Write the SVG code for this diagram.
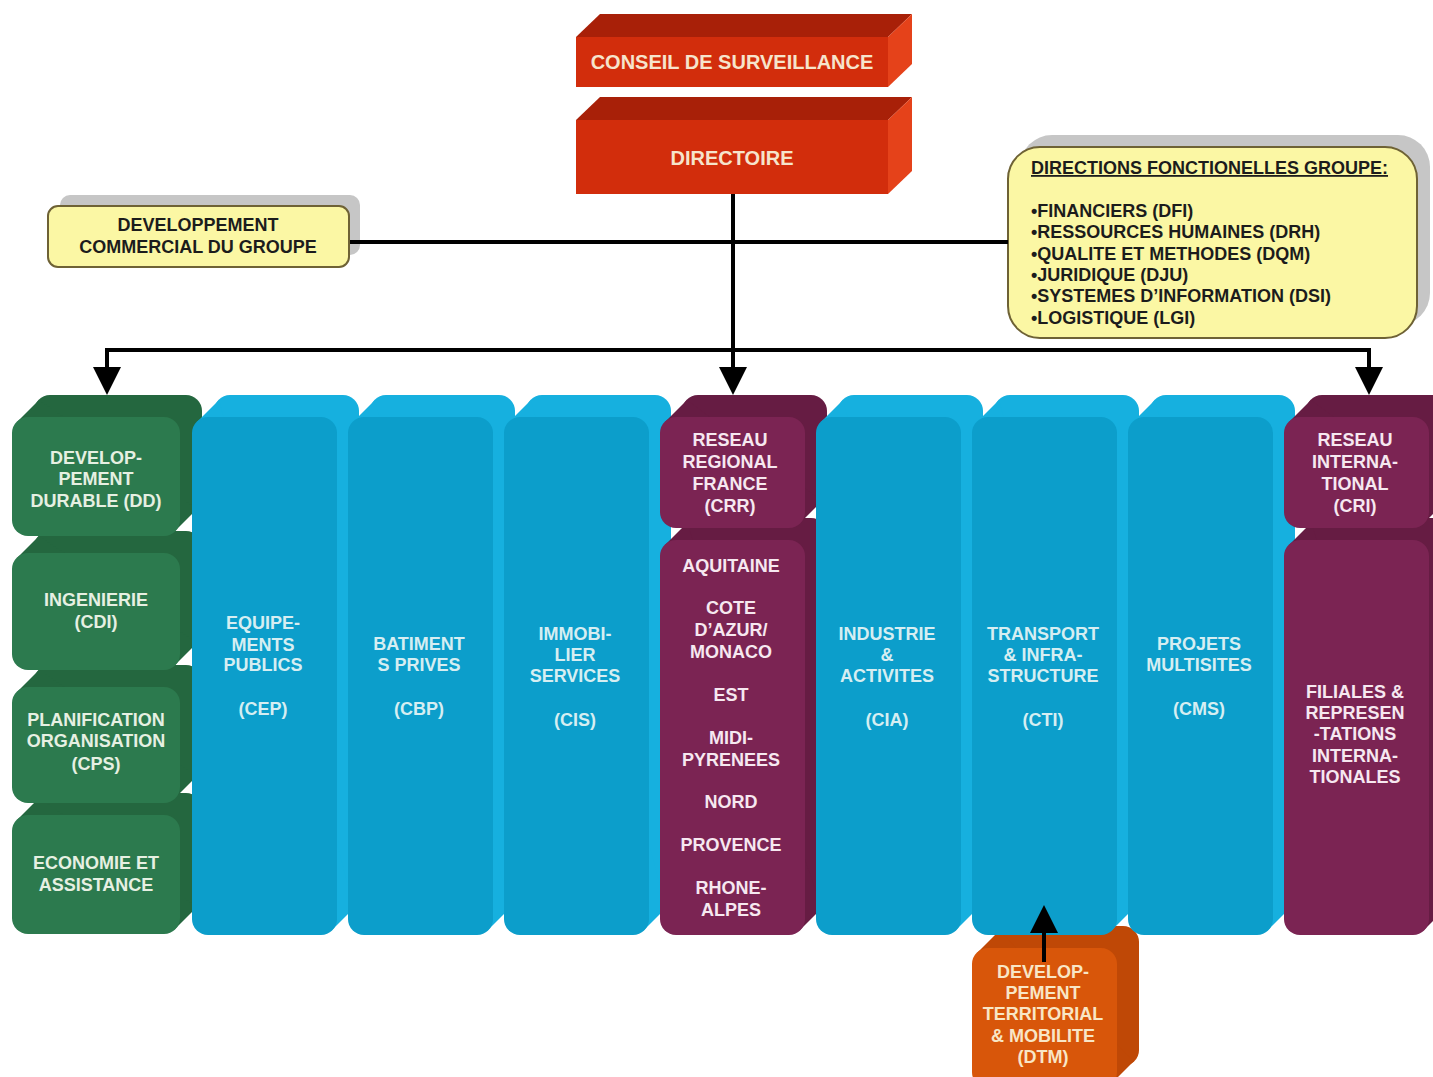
<svg xmlns="http://www.w3.org/2000/svg" width="1433" height="1077" viewBox="0 0 1433 1077">
<style>
text{font-family:"Liberation Sans",Arial,sans-serif;font-weight:bold;font-size:18px;text-anchor:middle}
.t-red{fill:#f6e4cc;font-size:20px}
.t-yel{fill:#1c1c1c}
.t-left{text-anchor:start}
.t-grn{fill:#e6f0e2}
.t-blu{fill:#d6eef2}
.t-pur{fill:#f6e8f0}
.t-org{fill:#f8e6c6}
.grn-f{fill:#2c7a4e}.grn-s{fill:#24673f}
.blu-f{fill:#0c9ecb}.blu-s{fill:#16b0df}
.pur-f{fill:#7b2453}.pur-s{fill:#661c43}
.org-f{fill:#d8560a}.org-s{fill:#bf4806}
.red-f{fill:#d22d0c}.red-t{fill:#a82008}.red-s{fill:#e5421a}
.yel{fill:#fbf7a4;stroke:#6e6235;stroke-width:2}
.shadow{fill:#c6c6c6}
.conn{fill:none;stroke:#000;stroke-width:4}
</style>
<defs>
<marker id="arr" markerUnits="userSpaceOnUse" markerWidth="30" markerHeight="30" refX="4" refY="14" orient="auto-start-reverse">
<path d="M0,0 L28,14 L0,28 z" fill="#000"/>
</marker>
</defs>

<g id="conseil">
<polygon class="red-t" points="576,37 600,14 912,14 888,37"/>
<polygon class="red-s" points="888,37 912,14 912,64 888,87"/>
<rect class="red-f" x="576" y="37" width="312" height="50"/>
<text class="t-red" x="732" y="69">CONSEIL DE SURVEILLANCE</text>
</g>
<g id="directoire">
<polygon class="red-t" points="576,120 600,97 912,97 888,120"/>
<polygon class="red-s" points="888,120 912,97 912,171 888,194"/>
<rect class="red-f" x="576" y="120" width="312" height="74"/>
<text class="t-red" x="732" y="165">DIRECTOIRE</text>
</g>

<g id="dev-commercial">
<rect class="shadow" x="60" y="195" width="300" height="60" rx="10"/>
<rect class="yel" x="48" y="206" width="301" height="61" rx="10"/>
<text class="t-yel" x="198" y="231">DEVELOPPEMENT</text>
<text class="t-yel" x="198" y="253">COMMERCIAL DU GROUPE</text>
</g>

<g id="directions-fonctionnelles">
<rect class="shadow" x="1020" y="135" width="410" height="190" rx="32"/>
<rect class="yel" x="1008" y="147" width="409" height="191" rx="32"/>
<text class="t-yel t-left" x="1031" y="174" text-decoration="underline">DIRECTIONS FONCTIONELLES GROUPE:</text>
<text class="t-yel t-left" x="1031" y="217">•FINANCIERS (DFI)</text>
<text class="t-yel t-left" x="1031" y="238">•RESSOURCES HUMAINES (DRH)</text>
<text class="t-yel t-left" x="1031" y="260">•QUALITE ET METHODES (DQM)</text>
<text class="t-yel t-left" x="1031" y="281">•JURIDIQUE (DJU)</text>
<text class="t-yel t-left" x="1031" y="302">•SYSTEMES D’INFORMATION (DSI)</text>
<text class="t-yel t-left" x="1031" y="324">•LOGISTIQUE (LGI)</text>
</g>

<g id="dtm">
<g transform="translate(972,948)">
<rect class="org-s" x="22" y="-22" width="145" height="140" rx="16"/>
<polygon class="org-s" points="5,5 27,-17 162,113 140,135"/>
<rect class="org-f" x="0" y="0" width="145" height="140" rx="16"/>
</g>
<text class="t-org" x="1043" y="978">DEVELOP-</text>
<text class="t-org" x="1043" y="999">PEMENT</text>
<text class="t-org" x="1043" y="1020">TERRITORIAL</text>
<text class="t-org" x="1043" y="1042">&amp; MOBILITE</text>
<text class="t-org" x="1043" y="1063">(DTM)</text>
</g>

<g id="eco">
<g transform="translate(12,815)">
<rect class="grn-s" x="22" y="-22" width="168" height="119" rx="16"/>
<polygon class="grn-s" points="5,5 27,-17 185,92 163,114"/>
<rect class="grn-f" x="0" y="0" width="168" height="119" rx="16"/>
</g>
<text class="t-grn" x="96" y="869">ECONOMIE ET</text>
<text class="t-grn" x="96" y="891">ASSISTANCE</text>
</g>
<g id="cps">
<g transform="translate(12,687)">
<rect class="grn-s" x="22" y="-22" width="168" height="116" rx="16"/>
<polygon class="grn-s" points="5,5 27,-17 185,89 163,111"/>
<rect class="grn-f" x="0" y="0" width="168" height="116" rx="16"/>
</g>
<text class="t-grn" x="96" y="726">PLANIFICATION</text>
<text class="t-grn" x="96" y="747">ORGANISATION</text>
<text class="t-grn" x="96" y="770">(CPS)</text>
</g>
<g id="cdi">
<g transform="translate(12,553)">
<rect class="grn-s" x="22" y="-22" width="168" height="117" rx="16"/>
<polygon class="grn-s" points="5,5 27,-17 185,90 163,112"/>
<rect class="grn-f" x="0" y="0" width="168" height="117" rx="16"/>
</g>
<text class="t-grn" x="96" y="606">INGENIERIE</text>
<text class="t-grn" x="96" y="628">(CDI)</text>
</g>
<g id="dd">
<g transform="translate(12,417)">
<rect class="grn-s" x="22" y="-22" width="168" height="119" rx="16"/>
<polygon class="grn-s" points="5,5 27,-17 185,92 163,114"/>
<rect class="grn-f" x="0" y="0" width="168" height="119" rx="16"/>
</g>
<text class="t-grn" x="96" y="464">DEVELOP-</text>
<text class="t-grn" x="96" y="485">PEMENT</text>
<text class="t-grn" x="96" y="507">DURABLE (DD)</text>
</g>

<g id="cep">
<g transform="translate(192,417)">
<rect class="blu-s" x="22" y="-22" width="145" height="518" rx="16"/>
<polygon class="blu-s" points="5,5 27,-17 162,491 140,513"/>
<rect class="blu-f" x="0" y="0" width="145" height="518" rx="16"/>
</g>
<text class="t-blu" x="263" y="629">EQUIPE-</text>
<text class="t-blu" x="263" y="651">MENTS</text>
<text class="t-blu" x="263" y="671">PUBLICS</text>
<text class="t-blu" x="263" y="715">(CEP)</text>
</g>

<g id="cbp">
<g transform="translate(348,417)">
<rect class="blu-s" x="22" y="-22" width="145" height="518" rx="16"/>
<polygon class="blu-s" points="5,5 27,-17 162,491 140,513"/>
<rect class="blu-f" x="0" y="0" width="145" height="518" rx="16"/>
</g>
<text class="t-blu" x="419" y="650">BATIMENT</text>
<text class="t-blu" x="419" y="671">S PRIVES</text>
<text class="t-blu" x="419" y="715">(CBP)</text>
</g>

<g id="cis">
<g transform="translate(504,417)">
<rect class="blu-s" x="22" y="-22" width="145" height="518" rx="16"/>
<polygon class="blu-s" points="5,5 27,-17 162,491 140,513"/>
<rect class="blu-f" x="0" y="0" width="145" height="518" rx="16"/>
</g>
<text class="t-blu" x="575" y="640">IMMOBI-</text>
<text class="t-blu" x="575" y="661">LIER</text>
<text class="t-blu" x="575" y="682">SERVICES</text>
<text class="t-blu" x="575" y="726">(CIS)</text>
</g>

<g id="regions">
<g transform="translate(660,540)">
<rect class="pur-s" x="22" y="-22" width="145" height="395" rx="16"/>
<polygon class="pur-s" points="5,5 27,-17 162,368 140,390"/>
<rect class="pur-f" x="0" y="0" width="145" height="395" rx="16"/>
</g>
<text class="t-pur" x="731" y="572">AQUITAINE</text>
<text class="t-pur" x="731" y="614">COTE</text>
<text class="t-pur" x="731" y="636">D’AZUR/</text>
<text class="t-pur" x="731" y="658">MONACO</text>
<text class="t-pur" x="731" y="701">EST</text>
<text class="t-pur" x="731" y="744">MIDI-</text>
<text class="t-pur" x="731" y="766">PYRENEES</text>
<text class="t-pur" x="731" y="808">NORD</text>
<text class="t-pur" x="731" y="851">PROVENCE</text>
<text class="t-pur" x="731" y="894">RHONE-</text>
<text class="t-pur" x="731" y="916">ALPES</text>
</g>
<g id="crr">
<g transform="translate(660,417)">
<rect class="pur-s" x="22" y="-22" width="145" height="111" rx="16"/>
<polygon class="pur-s" points="5,5 27,-17 162,84 140,106"/>
<rect class="pur-f" x="0" y="0" width="145" height="111" rx="16"/>
</g>
<text class="t-pur" x="730" y="446">RESEAU</text>
<text class="t-pur" x="730" y="468">REGIONAL</text>
<text class="t-pur" x="730" y="490">FRANCE</text>
<text class="t-pur" x="730" y="512">(CRR)</text>
</g>

<g id="cia">
<g transform="translate(816,417)">
<rect class="blu-s" x="22" y="-22" width="145" height="518" rx="16"/>
<polygon class="blu-s" points="5,5 27,-17 162,491 140,513"/>
<rect class="blu-f" x="0" y="0" width="145" height="518" rx="16"/>
</g>
<text class="t-blu" x="887" y="640">INDUSTRIE</text>
<text class="t-blu" x="887" y="661">&amp;</text>
<text class="t-blu" x="887" y="682">ACTIVITES</text>
<text class="t-blu" x="887" y="726">(CIA)</text>
</g>

<g id="cti">
<g transform="translate(972,417)">
<rect class="blu-s" x="22" y="-22" width="145" height="518" rx="16"/>
<polygon class="blu-s" points="5,5 27,-17 162,491 140,513"/>
<rect class="blu-f" x="0" y="0" width="145" height="518" rx="16"/>
</g>
<text class="t-blu" x="1043" y="640">TRANSPORT</text>
<text class="t-blu" x="1043" y="661">&amp; INFRA-</text>
<text class="t-blu" x="1043" y="682">STRUCTURE</text>
<text class="t-blu" x="1043" y="726">(CTI)</text>
</g>

<g id="cms">
<g transform="translate(1128,417)">
<rect class="blu-s" x="22" y="-22" width="145" height="518" rx="16"/>
<polygon class="blu-s" points="5,5 27,-17 162,491 140,513"/>
<rect class="blu-f" x="0" y="0" width="145" height="518" rx="16"/>
</g>
<text class="t-blu" x="1199" y="650">PROJETS</text>
<text class="t-blu" x="1199" y="671">MULTISITES</text>
<text class="t-blu" x="1199" y="715">(CMS)</text>
</g>

<g id="filiales">
<g transform="translate(1284,540)">
<rect class="pur-s" x="22" y="-22" width="145" height="395" rx="16"/>
<polygon class="pur-s" points="5,5 27,-17 162,368 140,390"/>
<rect class="pur-f" x="0" y="0" width="145" height="395" rx="16"/>
</g>
<text class="t-pur" x="1355" y="698">FILIALES &amp;</text>
<text class="t-pur" x="1355" y="719">REPRESEN</text>
<text class="t-pur" x="1355" y="740">-TATIONS</text>
<text class="t-pur" x="1355" y="762">INTERNA-</text>
<text class="t-pur" x="1355" y="783">TIONALES</text>
</g>
<g id="cri">
<g transform="translate(1284,417)">
<rect class="pur-s" x="22" y="-22" width="145" height="111" rx="16"/>
<polygon class="pur-s" points="5,5 27,-17 162,84 140,106"/>
<rect class="pur-f" x="0" y="0" width="145" height="111" rx="16"/>
</g>
<text class="t-pur" x="1355" y="446">RESEAU</text>
<text class="t-pur" x="1355" y="468">INTERNA-</text>
<text class="t-pur" x="1355" y="490">TIONAL</text>
<text class="t-pur" x="1355" y="512">(CRI)</text>
</g>

<g id="connectors">
<path class="conn" d="M350,242 H1008"/>
<path class="conn" d="M733,194 V371" marker-end="url(#arr)"/>
<path class="conn" d="M107,371 V350 H1369 V371" marker-start="url(#arr)" marker-end="url(#arr)"/>
<path class="conn" d="M1044,962 V929" marker-end="url(#arr)"/>
</g>
</svg>
